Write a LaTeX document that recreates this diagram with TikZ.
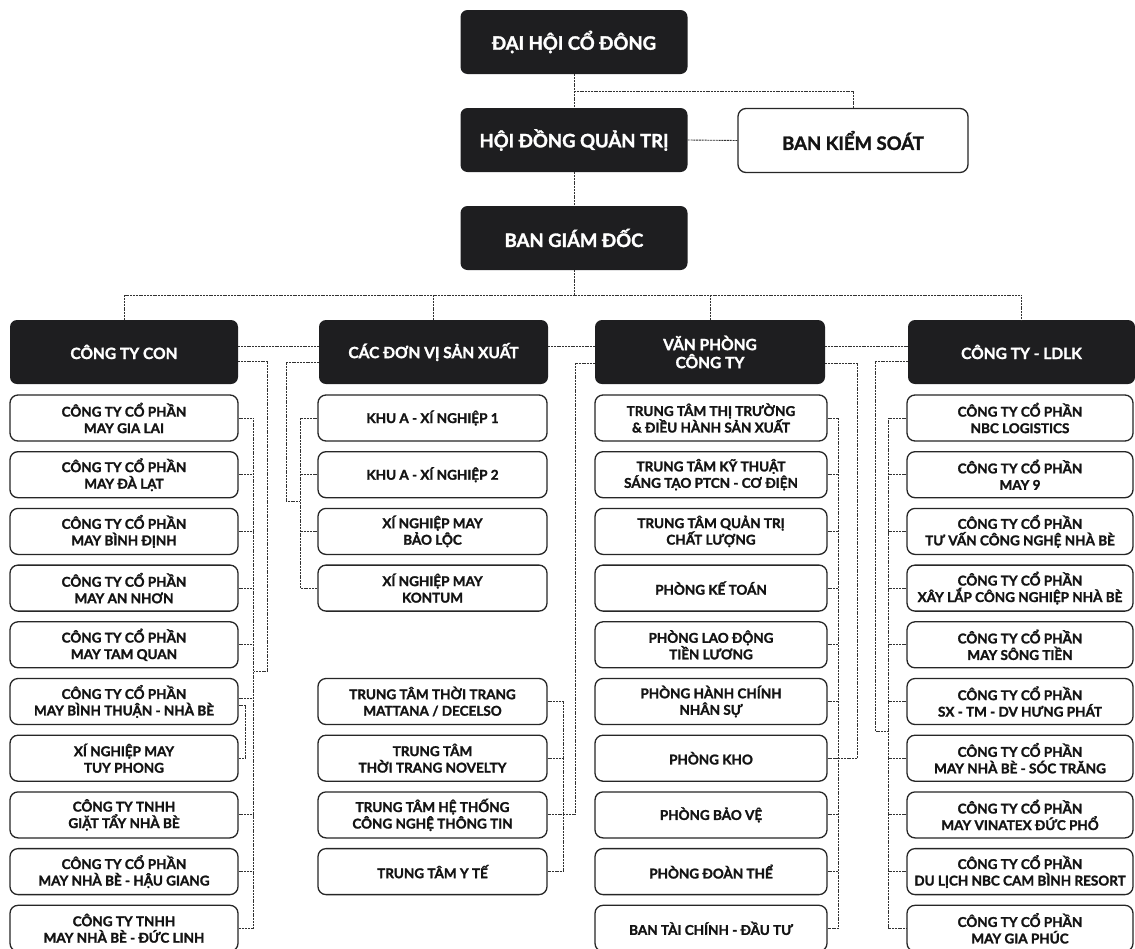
\documentclass[tikz,border=0pt]{standalone}
\usepackage{fontspec}
\setmainfont{Lato}[BoldFeatures={FakeBold=1.6}]
\usetikzlibrary{calc}
\definecolor{boxdark}{RGB}{30,30,32}
\definecolor{linegray}{RGB}{50,50,50}
\tikzset{
  conn/.style={draw=linegray, line width=0.9pt, dash pattern=on 2pt off 0.8pt},
  darkbox/.style={fill=boxdark, rounded corners=7pt, text=white, align=center,
    inner sep=0pt, minimum height=64pt},
  topfont/.style={font=\fontsize{18.5pt}{21pt}\selectfont\bfseries},
  headfont/.style={font=\fontsize{15.5pt}{18pt}\selectfont\bfseries},
  litebox/.style={draw=black!85, line width=1.3pt, fill=white, rounded corners=8pt,
    align=center, inner sep=0pt, minimum height=46pt, text=black!92,
    font=\fontsize{13.5pt}{16.5pt}\selectfont\bfseries},
}
\begin{document}
\begin{tikzpicture}[x=1pt,y=-1pt]
\fill[white] (0,0) rectangle (1135,948);
\useasboundingbox (0,0) rectangle (1135,948);

% top level
\node[darkbox,topfont,minimum width=227pt] (dhcd) at (574,42) {ĐẠI HỘI CỔ ĐÔNG};
\node[darkbox,topfont,minimum width=227pt] (hdqt) at (574,140) {HỘI ĐỒNG QUẢN TRỊ};
\node[darkbox,topfont,minimum width=227pt] (bgd) at (574,238) {BAN GIÁM ĐỐC};
\node[litebox,topfont,minimum width=230pt,minimum height=64pt] (bks) at (853,140.5) {BAN KIỂM SOÁT};

% headers
\node[darkbox,headfont,minimum width=228pt] (con) at (124,352) {CÔNG TY CON};
\node[darkbox,headfont,minimum width=229pt] (dv) at (433.5,352) {CÁC ĐƠN VỊ SẢN XUẤT};
\node[darkbox,headfont,minimum width=230pt] (vp) at (710,352) {VĂN PHÒNG\\CÔNG TY};
\node[darkbox,headfont,minimum width=227pt] (ldlk) at (1021.5,352) {CÔNG TY - LDLK};

% column 1
\foreach \t [count=\i] in {
  {CÔNG TY CỔ PHẦN\\MAY GIA LAI},
  {CÔNG TY CỔ PHẦN\\MAY ĐÀ LẠT},
  {CÔNG TY CỔ PHẦN\\MAY BÌNH ĐỊNH},
  {CÔNG TY CỔ PHẦN\\MAY AN NHƠN},
  {CÔNG TY CỔ PHẦN\\MAY TAM QUAN},
  {CÔNG TY CỔ PHẦN\\MAY BÌNH THUẬN - NHÀ BÈ},
  {XÍ NGHIỆP MAY\\TUY PHONG},
  {CÔNG TY TNHH\\GIẶT TẨY NHÀ BÈ},
  {CÔNG TY CỔ PHẦN\\MAY NHÀ BÈ - HẬU GIANG},
  {CÔNG TY TNHH\\MAY NHÀ BÈ - ĐỨC LINH}}
  \node[litebox,minimum width=228pt] (c\i) at (124,{418+56.7*(\i-1)}) {\t};

% column 2
\foreach \r/\t in {
  1/{KHU A - XÍ NGHIỆP 1},
  2/{KHU A - XÍ NGHIỆP 2},
  3/{XÍ NGHIỆP MAY\\BẢO LỘC},
  4/{XÍ NGHIỆP MAY\\KONTUM},
  6/{TRUNG TÂM THỜI TRANG\\MATTANA / DECELSO},
  7/{TRUNG TÂM\\THỜI TRANG NOVELTY},
  8/{TRUNG TÂM HỆ THỐNG\\CÔNG NGHỆ THÔNG TIN},
  9/{TRUNG TÂM Y TẾ}}
  \node[litebox,minimum width=229pt] (d\r) at (432.5,{418+56.7*(\r-1)}) {\t};

% column 3
\foreach \t [count=\i] in {
  {TRUNG TÂM THỊ TRƯỜNG\\\& ĐIỀU HÀNH SẢN XUẤT},
  {TRUNG TÂM KỸ THUẬT\\SÁNG TẠO PTCN - CƠ ĐIỆN},
  {TRUNG TÂM QUẢN TRỊ\\CHẤT LƯỢNG},
  {PHÒNG KẾ TOÁN},
  {PHÒNG LAO ĐỘNG\\TIỀN LƯƠNG},
  {PHÒNG HÀNH CHÍNH\\NHÂN SỰ},
  {PHÒNG KHO},
  {PHÒNG BẢO VỆ},
  {PHÒNG ĐOÀN THỂ},
  {BAN TÀI CHÍNH - ĐẦU TƯ}}
  \node[litebox,minimum width=232pt] (v\i) at (711,{418+56.7*(\i-1)}) {\t};

% column 4
\foreach \t [count=\i] in {
  {CÔNG TY CỔ PHẦN\\NBC LOGISTICS},
  {CÔNG TY CỔ PHẦN\\MAY 9},
  {CÔNG TY CỔ PHẦN\\TƯ VẤN CÔNG NGHỆ NHÀ BÈ},
  {CÔNG TY CỔ PHẦN\\XÂY LẮP CÔNG NGHIỆP NHÀ BÈ},
  {CÔNG TY CỔ PHẦN\\MAY SÔNG TIỀN},
  {CÔNG TY CỔ PHẦN\\SX - TM - DV HƯNG PHÁT},
  {CÔNG TY CỔ PHẦN\\MAY NHÀ BÈ - SÓC TRĂNG},
  {CÔNG TY CỔ PHẦN\\MAY VINATEX ĐỨC PHỔ},
  {CÔNG TY CỔ PHẦN\\DU LỊCH NBC CAM BÌNH RESORT},
  {CÔNG TY CỔ PHẦN\\MAY GIA PHÚC}}
  \node[litebox,minimum width=226pt] (l\i) at (1020,{418+56.7*(\i-1)}) {\t};

% ---- connectors: top
\draw[conn] (dhcd.south) -- (hdqt.north);
\draw[conn] (dhcd.south) ++(0,17) -| (bks.north);
\draw[conn] (hdqt.east) -- (bks.west);
\draw[conn] (hdqt.south) -- (bgd.north);
\draw[conn] (bgd.south) -- ++(0,25) coordinate (bus);
\draw[conn] (con.north) |- (bus) -| (ldlk.north);
\draw[conn] (dv.north) -- (dv.north |- bus);
\draw[conn] (vp.north) -- (vp.north |- bus);

% header row line
\draw[conn] ([yshift=6pt]con.east) -- ([yshift=6pt]dv.west);
\draw[conn] ([yshift=6pt]dv.east) -- ([yshift=6pt]vp.west);
\draw[conn] ([yshift=6pt]vp.east) -- ([yshift=6pt]ldlk.west);

% column 1 bracket
\draw[conn] ([yshift=-9pt]con.east) -| ([xshift=29pt,yshift=-27pt]c5.east) -- ([xshift=15pt,yshift=-27pt]c5.east);
\draw[conn] (c1.east) -| ([xshift=15pt]c10.east) -- (c10.east);
\foreach \i in {2,3,4,5,8,9} \draw[conn] (c\i.east) -- ++(15,0);
\draw[conn] ([yshift=3pt]c6.east) -- ++(15,0);
\draw[conn] ([yshift=-4pt]c6.east) -- ++(7,0) |- (c7.east);

% column 2 bracket
\draw[conn] ([yshift=-10pt]dv.west) -| ([xshift=-31pt,yshift=-27pt]d2.west) -- ([xshift=-17pt,yshift=-27pt]d2.west);
\draw[conn] (d1.west) -| ([xshift=-17pt]d4.west) -- (d4.west);
\foreach \i in {2,3} \draw[conn] (d\i.west) -- ++(-17,0);

% office -> centres group
\draw[conn] ([yshift=-11pt]vp.west) -| ([xshift=28pt]d8.east) -- (d8.east);
\draw[conn] (d6.east) -| ([xshift=16pt]d9.east) -- (d9.east);
\draw[conn] (d7.east) -- ++(16,0);

% column 3 bracket
\draw[conn] ([yshift=-11pt]vp.east) -| ([xshift=30pt]v7.east) -- (v7.east);
\draw[conn] (v1.east) -| ([xshift=11pt]v10.east) -- (v10.east);
\foreach \i in {2,...,9} \draw[conn] (v\i.east) -- ++(11,0);

% column 4 bracket
\draw[conn] ([yshift=-9pt]ldlk.west) -| ([xshift=-31pt,yshift=-30pt]l6.west) -- ([xshift=-18pt,yshift=-30pt]l6.west);
\draw[conn] (l1.west) -| ([xshift=-18pt]l10.west) -- (l10.west);
\foreach \i in {2,...,9} \draw[conn] (l\i.west) -- ++(-18,0);
\end{tikzpicture}
\end{document}
